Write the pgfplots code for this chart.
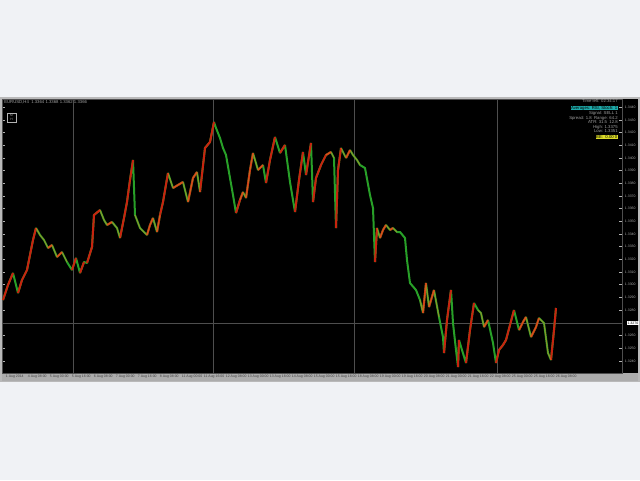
\documentclass[border=0pt]{standalone}
\usepackage{pgfplots}
\pgfplotsset{compat=1.18}
\usepackage{fontspec}
\setmainfont{Liberation Sans}
\definecolor{pagebg}{RGB}{240,242,245}
\definecolor{candleup}{RGB}{200,35,15}
\definecolor{candledn}{RGB}{40,160,40}
\definecolor{blend}{RGB}{215,140,40}
\definecolor{infocyan}{RGB}{30,170,170}
\definecolor{infoyellow}{RGB}{220,220,40}
\definecolor{gridc}{RGB}{78,78,78}
\newcommand{\tinyf}{\fontsize{2.6}{3}\selectfont}
\begin{document}
\begin{tikzpicture}[x=0.75pt,y=-0.75pt]
\fill[pagebg] (0,0) rectangle (640,480);
\fill[gray!55] (0,97) rectangle (640,382);
\fill[black] (2,99) rectangle (638,373);
\fill[gray!65] (2,373) rectangle (638,381);
\begin{axis}[
  at={(1.5pt,-74.25pt)}, anchor=north west,
  scale only axis, width=465pt, height=205.5pt,
  xmin=2, xmax=622, ymin=99, ymax=373, y dir=reverse,
  axis line style={gridc, line width=0.5pt},
  unbounded coords=jump,
  xtick={5,27,49,71,93,115,137,159,181,203,225,247,269,291,313,335,357,379,401,423,445,467,489,511,533,555},
  xticklabels={1 Aug 2014,4 Aug 08:00,5 Aug 00:00,5 Aug 16:00,6 Aug 08:00,7 Aug 00:00,7 Aug 16:00,8 Aug 08:00,11 Aug 00:00,11 Aug 16:00,12 Aug 08:00,13 Aug 00:00,13 Aug 16:00,14 Aug 08:00,15 Aug 00:00,15 Aug 16:00,18 Aug 08:00,19 Aug 00:00,19 Aug 16:00,20 Aug 08:00,21 Aug 00:00,21 Aug 16:00,22 Aug 08:00,25 Aug 00:00,25 Aug 16:00,26 Aug 08:00},
  xticklabel style={font=\tinyf, text=black!75, anchor=north west, inner sep=0pt, yshift=-1.2pt, xshift=0.5pt},
  xtick style={draw=none},
  extra x ticks={73,213,354,497},
  extra x tick labels={},
  extra x tick style={grid=major, major grid style={gridc, line width=0.6pt}},
  ytick={107,120,132,145,158,170,183,196,208,221,234,246,259,272,284,297,310,335,348,361},
  yticklabels={1.3440,1.3430,1.3420,1.3410,1.3400,1.3390,1.3380,1.3370,1.3360,1.3350,1.3340,1.3330,1.3320,1.3310,1.3300,1.3290,1.3280,1.3260,1.3250,1.3240},
  yticklabel pos=right,
  yticklabel style={font=\tinyf, text=gray!70, inner sep=0pt, xshift=2pt},
  ytick style={gray!60, line width=0.4pt},
  major tick length=2pt,
  extra y ticks={323},
  extra y tick labels={1.3270},
  extra y tick style={yticklabel style={fill=white, text=black, inner sep=0.4pt, xshift=1.6pt, font=\tinyf}},
  clip=true,
]
% bid line
\addplot[gridc, line width=0.6pt] coordinates {(2,323) (622,323)};
% full price path (falling moves green)
\addplot[candledn, line width=1.5pt, line join=bevel] coordinates {
(3,300) (8,285) (13,273) (18,293) (22,280) (27,270) (33,240) (36,228) (40,235) (44,240) (48,248) (52,245) (57,257) (62,252) (67,262) (72,270) (76,258) (80,273) (84,262) (87,263) (92,247) (94,215) (100,210) (104,220) (107,225) (112,222) (117,228) (120,238) (124,218) (127,202) (130,180) (133,160) (135,215) (140,228) (144,232) (147,235) (150,225) (153,218) (157,232) (160,215) (163,202) (168,173) (173,188) (178,185) (183,182) (188,202) (193,178) (197,172) (200,192) (205,148) (210,142) (214,122) (216,128) (220,138) (223,148) (226,155) (230,178) (233,195) (236,213) (240,200) (243,192) (246,198) (250,170) (253,153) (258,170) (263,165) (266,183) (270,160) (275,137) (280,153) (285,145) (290,182) (295,212) (299,180) (303,152) (306,175) (311,143) (313,202) (316,178) (321,165) (326,155) (331,152) (334,158) (336,228) (338,170) (341,148) (346,158) (350,150) (353,155) (357,160) (360,165) (365,168) (370,195) (373,208) (375,262) (377,228) (380,238) (383,230) (386,225) (390,230) (393,228) (397,232) (400,232) (405,238) (407,260) (410,283) (416,290) (420,300) (423,313) (426,283) (429,307) (434,290) (439,317) (443,337) (444,353) (447,320) (451,290) (453,323) (456,350) (458,367) (459,340) (462,350) (466,363) (470,330) (474,303) (478,310) (481,313) (484,327) (488,320) (493,343) (496,363) (499,350) (503,345) (506,340) (510,325) (514,310) (519,330) (523,322) (526,317) (531,337) (536,327) (539,318) (544,323) (548,353) (551,360) (554,330) (556,308)
};
% rising moves red
\addplot[candleup, line width=1.5pt, line join=bevel] coordinates {
(3,300) (8,285) (13,273) (0,nan)
(18,293) (22,280) (27,270) (33,240) (36,228) (0,nan)
(48,248) (52,245) (0,nan)
(57,257) (62,252) (0,nan)
(72,270) (76,258) (0,nan)
(80,273) (84,262) (0,nan)
(87,263) (92,247) (94,215) (100,210) (0,nan)
(107,225) (112,222) (0,nan)
(120,238) (124,218) (127,202) (130,180) (133,160) (0,nan)
(147,235) (150,225) (153,218) (0,nan)
(157,232) (160,215) (163,202) (168,173) (0,nan)
(173,188) (178,185) (183,182) (0,nan)
(188,202) (193,178) (197,172) (0,nan)
(200,192) (205,148) (210,142) (214,122) (0,nan)
(236,213) (240,200) (243,192) (0,nan)
(246,198) (250,170) (253,153) (0,nan)
(258,170) (263,165) (0,nan)
(266,183) (270,160) (275,137) (0,nan)
(280,153) (285,145) (0,nan)
(295,212) (299,180) (303,152) (0,nan)
(306,175) (311,143) (0,nan)
(313,202) (316,178) (321,165) (326,155) (331,152) (0,nan)
(336,228) (338,170) (341,148) (0,nan)
(346,158) (350,150) (0,nan)
(375,262) (377,228) (0,nan)
(380,238) (383,230) (386,225) (0,nan)
(390,230) (393,228) (0,nan)
(423,313) (426,283) (0,nan)
(429,307) (434,290) (0,nan)
(444,353) (447,320) (451,290) (0,nan)
(458,367) (459,340) (0,nan)
(466,363) (470,330) (474,303) (0,nan)
(484,327) (488,320) (0,nan)
(496,363) (499,350) (503,345) (506,340) (510,325) (514,310) (0,nan)
(519,330) (523,322) (526,317) (0,nan)
(531,337) (536,327) (539,318) (0,nan)
(551,360) (554,330) (556,308)
};
% orange blend where candles overlap (flat, choppy stretches)
\addplot[blend, opacity=0.55, line width=0.8pt, line join=bevel] coordinates {
(36,228) (40,235) (44,240) (48,248) (52,245) (57,257) (62,252) (67,262) (0,nan)
(100,210) (104,220) (107,225) (112,222) (117,228) (120,238) (0,nan)
(135,215) (140,228) (144,232) (147,235) (150,225) (153,218) (157,232) (160,215) (0,nan)
(168,173) (173,188) (178,185) (183,182) (188,202) (193,178) (197,172) (200,192) (0,nan)
(240,200) (243,192) (246,198) (250,170) (253,153) (258,170) (263,165) (0,nan)
(326,155) (331,152) (334,158) (0,nan)
(341,148) (346,158) (350,150) (353,155) (357,160) (360,165) (0,nan)
(377,228) (380,238) (383,230) (386,225) (390,230) (393,228) (397,232) (0,nan)
(420,300) (423,313) (426,283) (429,307) (434,290) (439,317) (0,nan)
(478,310) (481,313) (484,327) (488,320) (0,nan)
(519,330) (523,322) (526,317) (531,337) (536,327) (539,318) (544,323) (548,353) (551,360)
};
\end{axis}
% window title and info texts
\node[anchor=west, inner sep=0pt, text=gray!75, font=\fontsize{3.2}{3.5}\selectfont] at (4,102) {EURUSD,H4\ \ 1.3364 1.3368 1.3362 1.3366};
\draw[gray!60, line width=0.4pt] (7,113) rectangle (16,122);
\node[inner sep=0pt, text=gray!75, font=\fontsize{2.4}{2.8}\selectfont, align=center] at (11.5,117.5) {M\\H};
\begin{scope}[every node/.style={anchor=east, inner sep=0pt, font=\fontsize{3.2}{3.6}\selectfont}]
\node[text=gray!75] at (618,101) {Time left: 02:34:17};
\node[text=black, fill=infocyan, inner sep=0.3pt] at (618,108) {Averages: RSI, Stoch: 1};
\node[text=gray!75] at (618,113) {Signal: SELL 1};
\node[text=gray!75] at (618,118) {Spread: 1.8 \ Range: 64.2};
\node[text=gray!75] at (618,122) {ATR: 31.5 \ 12.8};
\node[text=gray!75] at (618,127) {High: 1.3375};
\node[text=gray!75] at (618,131) {Low: 1.3351};
\node[text=black, fill=infoyellow, inner sep=0.3pt] at (618,137) {BE: \ 0.00 0};
\end{scope}
\end{tikzpicture}
\end{document}
